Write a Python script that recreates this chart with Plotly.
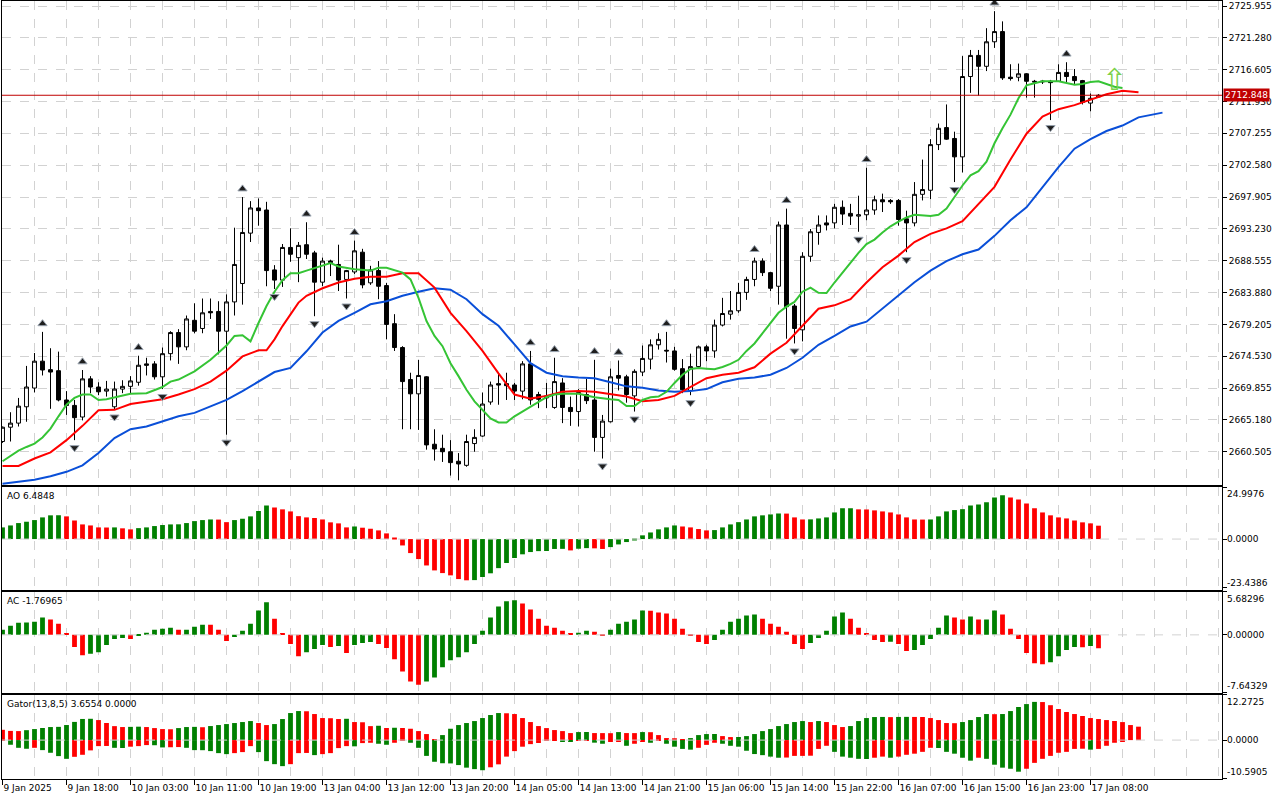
import plotly.graph_objects as go

# ---------------- data (XAUUSD H1, bar index 0..137) ----------------
time_labels = ["9 Jan 2025", "9 Jan 18:00", "10 Jan 03:00", "10 Jan 11:00", "10 Jan 19:00",
               "13 Jan 04:00", "13 Jan 12:00", "13 Jan 20:00", "14 Jan 05:00", "14 Jan 13:00",
               "14 Jan 21:00", "15 Jan 06:00", "15 Jan 14:00", "15 Jan 22:00", "16 Jan 07:00",
               "16 Jan 15:00", "16 Jan 23:00", "17 Jan 08:00"]
label_bars = [0, 8, 16, 24, 32, 40, 48, 56, 64, 72, 80, 88, 96, 104, 112, 120, 128, 136]

opens = [2662.0, 2664.1, 2664.7, 2667.1, 2669.85, 2673.8, 2672.55, 2672.4, 2668.1, 2667.3,
         2665.6, 2671.2, 2670.0, 2669.4, 2667.1, 2669.7, 2670.1, 2670.7, 2673.4, 2673.4,
         2671.5, 2674.9, 2678.0, 2675.9, 2679.8, 2678.6, 2681.1, 2681.1, 2678.2, 2682.5,
         2685.2, 2692.6, 2696.3, 2696.0, 2687.2, 2685.7, 2690.5, 2689.0, 2690.9, 2689.7,
         2685.4, 2688.5, 2688.0, 2685.8, 2686.9, 2689.8, 2685.3, 2687.1, 2684.9, 2679.3,
         2675.8, 2671.1, 2669.0, 2671.5, 2661.6, 2661.0, 2660.5, 2659.1, 2658.5, 2661.7,
         2662.8, 2667.8, 2670.5, 2670.5, 2670.3, 2669.4, 2673.4, 2668.9, 2668.4, 2667.0,
         2670.6, 2667.0, 2666.4, 2668.9, 2668.1, 2662.6, 2664.9, 2671.7, 2671.5, 2668.7,
         2672.2, 2674.1, 2676.2, 2675.4, 2675.3, 2672.7, 2669.5, 2673.0, 2675.9, 2675.3,
         2679.1, 2680.7, 2681.2, 2683.9, 2685.8, 2688.5, 2686.8, 2684.8, 2693.8, 2681.9,
         2678.4, 2689.2, 2692.7, 2694.1, 2694.1, 2696.4, 2695.5, 2695.1, 2695.3, 2696.0,
         2697.5, 2697.4, 2697.4, 2694.7, 2694.1, 2698.3, 2698.9, 2705.6, 2708.1, 2706.5,
         2703.8, 2715.6, 2718.7, 2717.1, 2720.7, 2722.2, 2715.5, 2715.5, 2716.0, 2714.9,
         2714.8, 2714.9, 2714.9, 2716.2, 2715.6, 2715.0, 2711.7, 2712.6]
highs = [2664.2, 2666.3, 2668.4, 2673.1, 2675.0, 2678.1, 2675.7, 2675.2, 2669.4, 2668.1,
         2672.5, 2671.6, 2670.7, 2670.9, 2670.8, 2671.0, 2671.6, 2674.6, 2674.3, 2673.8,
         2675.8, 2678.2, 2678.5, 2680.5, 2682.3, 2683.0, 2683.0, 2682.6, 2683.6, 2693.4,
         2697.9, 2697.3, 2697.7, 2697.2, 2687.9, 2691.0, 2693.3, 2691.3, 2694.2, 2690.0,
         2689.0, 2688.7, 2690.9, 2687.2, 2691.5, 2690.3, 2687.8, 2688.5, 2685.3, 2680.7,
         2676.0, 2672.1, 2674.0, 2671.6, 2663.8, 2663.0, 2662.2, 2660.3, 2663.0, 2663.8,
         2669.2, 2670.8, 2672.1, 2672.1, 2670.6, 2673.8, 2675.3, 2669.3, 2670.6, 2674.3,
         2671.3, 2668.6, 2669.7, 2671.2, 2674.0, 2665.9, 2672.7, 2673.9, 2671.8, 2672.6,
         2676.1, 2677.0, 2677.9, 2678.1, 2675.9, 2674.1, 2674.9, 2676.1, 2676.2, 2679.9,
         2683.1, 2684.1, 2685.3, 2686.2, 2689.0, 2688.9, 2686.9, 2694.3, 2696.2, 2682.2,
         2689.8, 2693.2, 2695.2, 2695.2, 2696.9, 2697.4, 2696.9, 2698.1, 2702.2, 2698.1,
         2698.4, 2697.6, 2697.6, 2695.9, 2700.1, 2703.4, 2706.4, 2708.7, 2711.5, 2707.5,
         2718.6, 2719.5, 2719.5, 2722.7, 2725.2, 2723.7, 2717.4, 2717.5, 2716.1, 2715.1,
         2715.1, 2715.1, 2717.4, 2717.7, 2716.7, 2715.1, 2713.1, 2713.0]
lows = [2661.8, 2662.0, 2664.2, 2664.9, 2669.2, 2671.7, 2666.8, 2667.9, 2665.9, 2662.2,
        2665.1, 2669.1, 2668.8, 2668.6, 2666.7, 2669.1, 2669.1, 2670.2, 2671.7, 2671.1,
        2669.7, 2673.9, 2673.4, 2675.4, 2677.9, 2677.9, 2680.0, 2674.8, 2663.0, 2680.5,
        2682.1, 2691.3, 2693.7, 2684.8, 2684.4, 2684.7, 2688.4, 2685.4, 2688.8, 2680.4,
        2684.8, 2686.3, 2684.1, 2683.0, 2686.6, 2684.5, 2685.0, 2682.9, 2677.0, 2675.3,
        2663.8, 2663.8, 2663.7, 2660.8, 2659.2, 2659.0, 2657.0, 2656.3, 2658.3, 2660.5,
        2662.7, 2667.4, 2667.4, 2668.1, 2668.1, 2668.2, 2667.4, 2666.9, 2666.9, 2666.8,
        2664.7, 2664.3, 2664.2, 2667.5, 2660.5, 2659.5, 2664.8, 2669.5, 2667.7, 2666.4,
        2671.6, 2672.6, 2675.5, 2673.6, 2672.4, 2669.1, 2668.8, 2672.8, 2673.8, 2674.3,
        2678.9, 2679.9, 2680.9, 2682.8, 2684.8, 2686.3, 2684.1, 2682.1, 2677.1, 2676.4,
        2676.7, 2688.4, 2690.9, 2693.0, 2693.3, 2693.8, 2693.8, 2692.8, 2694.5, 2695.3,
        2695.7, 2696.9, 2693.7, 2689.8, 2693.6, 2697.4, 2697.6, 2704.8, 2706.3, 2700.1,
        2701.5, 2713.2, 2712.8, 2716.4, 2719.8, 2715.1, 2715.0, 2714.9, 2712.5, 2712.5,
        2714.5, 2709.2, 2714.9, 2714.8, 2714.4, 2711.5, 2710.5, 2712.5]
closes = [2664.1, 2664.7, 2667.2, 2670.0, 2673.8, 2672.5, 2672.2, 2668.1, 2667.3, 2665.5,
          2671.2, 2670.0, 2669.3, 2669.7, 2669.7, 2670.1, 2670.9, 2673.2, 2673.2, 2671.5,
          2674.9, 2678.0, 2675.9, 2680.0, 2678.2, 2680.9, 2680.9, 2678.2, 2682.5, 2688.0,
          2692.7, 2696.3, 2695.9, 2687.1, 2685.7, 2690.5, 2689.5, 2690.8, 2689.5, 2685.4,
          2688.5, 2688.3, 2685.7, 2687.1, 2690.0, 2685.0, 2687.2, 2684.8, 2679.2, 2675.8,
          2670.8, 2669.0, 2671.7, 2661.5, 2660.9, 2660.5, 2658.9, 2658.7, 2662.0, 2662.6,
          2667.5, 2670.3, 2670.3, 2670.2, 2669.4, 2673.4, 2668.1, 2668.2, 2668.7, 2670.8,
          2667.0, 2666.4, 2669.2, 2668.0, 2662.6, 2665.0, 2671.5, 2671.3, 2668.9, 2672.3,
          2674.2, 2676.2, 2677.0, 2675.3, 2672.6, 2669.6, 2673.0, 2675.9, 2675.3, 2679.1,
          2680.8, 2681.2, 2683.9, 2685.8, 2688.5, 2686.8, 2684.5, 2693.8, 2681.8, 2678.6,
          2689.2, 2692.8, 2693.8, 2693.8, 2696.4, 2695.4, 2695.1, 2695.3, 2696.0, 2697.5,
          2697.2, 2697.2, 2694.6, 2694.1, 2698.3, 2699.0, 2705.6, 2708.0, 2706.4, 2703.8,
          2715.6, 2718.7, 2717.1, 2720.7, 2722.2, 2715.4, 2715.3, 2716.0, 2714.9, 2714.8,
          2714.9, 2714.7, 2716.2, 2715.6, 2715.0, 2711.8, 2712.4, 2712.848]

# Alligator lines (bar index, price); they run past the last bar because of their shift
jaw_points = [(0, 2655.8), (2, 2656.1), (4, 2656.4), (6, 2656.9), (8, 2657.55), (10, 2658.5),
              (12, 2660.3), (14, 2662.5), (16, 2663.8), (18, 2664.2), (20, 2664.9), (22, 2665.7),
              (24, 2666.2), (26, 2667.2), (28, 2668.1), (30, 2669.4), (32, 2670.8), (34, 2672.2),
              (36, 2672.8), (38, 2675.25), (40, 2678.0), (42, 2679.7), (44, 2680.9), (46, 2682.15),
              (48, 2682.6), (50, 2683.4), (52, 2684.0), (54, 2684.5), (56, 2684.3), (58, 2682.9),
              (60, 2680.7), (62, 2679.0), (64, 2676.25), (66, 2673.5), (68, 2672.1), (70, 2671.6),
              (72, 2671.4), (74, 2671.3), (76, 2670.7), (78, 2670.1), (80, 2669.9), (82, 2669.5),
              (84, 2669.3), (86, 2669.4), (88, 2669.7), (90, 2670.7), (92, 2671.2), (94, 2671.4),
              (96, 2671.8), (98, 2672.8), (100, 2674.3), (102, 2676.2), (104, 2677.5), (106, 2678.9),
              (108, 2679.6), (110, 2681.5), (112, 2683.4), (114, 2685.4), (116, 2687.1), (118, 2688.5),
              (120, 2689.5), (122, 2690.2), (124, 2692.2), (126, 2694.5), (128, 2696.4), (130, 2699.4),
              (132, 2702.3), (134, 2705.0), (136, 2706.4), (138, 2707.6), (140, 2708.4), (142, 2709.6),
              (144, 2710.1), (145, 2710.3)]
teeth_points = [(0, 2658.4), (2, 2658.4), (4, 2659.5), (6, 2660.4), (8, 2662.2), (10, 2664.3),
                (12, 2666.6), (14, 2666.65), (16, 2667.5), (18, 2667.9), (20, 2668.2), (22, 2668.9),
                (24, 2669.7), (26, 2670.8), (28, 2672.4), (30, 2674.5), (32, 2675.4), (33, 2675.4),
                (34, 2677.0), (35, 2678.95), (36, 2680.7), (37, 2682.4), (38, 2683.4), (40, 2684.5),
                (42, 2685.35), (44, 2685.9), (46, 2686.2), (48, 2686.2), (50, 2686.7), (52, 2686.7),
                (54, 2684.6), (56, 2680.9), (58, 2678.2), (60, 2675.3), (62, 2672.0), (64, 2668.9),
                (66, 2668.3), (68, 2668.7), (70, 2669.3), (72, 2669.4), (74, 2669.3), (76, 2668.9),
                (78, 2668.6), (80, 2667.9), (82, 2668.1), (84, 2668.7), (86, 2670.0), (88, 2671.3),
                (90, 2671.8), (92, 2672.1), (94, 2672.9), (96, 2674.9), (98, 2676.5), (100, 2678.95),
                (102, 2681.5), (104, 2682.0), (106, 2682.9), (108, 2685.35), (110, 2687.6), (112, 2689.3),
                (114, 2691.3), (116, 2692.5), (118, 2693.3), (120, 2694.35), (122, 2696.8), (124, 2699.4),
                (126, 2703.4), (128, 2707.2), (130, 2709.7), (132, 2710.8), (134, 2711.4), (136, 2712.2),
                (138, 2713.0), (140, 2713.5), (142, 2713.3)]
lips_points = [(0, 2659.1), (1, 2659.9), (2, 2660.65), (3, 2661.2), (4, 2661.7), (5, 2662.6),
               (6, 2663.9), (7, 2665.7), (8, 2667.4), (9, 2668.4), (10, 2668.9), (11, 2668.9),
               (12, 2668.1), (13, 2668.2), (14, 2668.5), (16, 2669.0), (18, 2669.1), (20, 2670.0),
               (21, 2670.8), (22, 2671.1), (24, 2672.3), (26, 2674.0), (28, 2676.1), (29, 2677.5),
               (30, 2677.6), (31, 2676.7), (32, 2679.4), (33, 2681.9), (34, 2684.0), (35, 2685.7),
               (36, 2686.7), (37, 2686.7), (38, 2687.1), (39, 2687.5), (40, 2687.8), (41, 2688.2),
               (42, 2687.7), (44, 2687.3), (46, 2687.1), (47, 2687.5), (48, 2687.5), (49, 2687.2),
               (50, 2686.8), (51, 2685.8), (52, 2683.1), (53, 2679.7), (54, 2677.5), (55, 2676.0),
               (56, 2673.5), (57, 2671.6), (58, 2669.6), (59, 2667.9), (60, 2666.65), (61, 2665.4),
               (62, 2664.8), (63, 2664.8), (64, 2665.7), (65, 2666.4), (66, 2667.2), (67, 2667.9),
               (68, 2668.5), (69, 2668.9), (70, 2669.0), (72, 2669.0), (74, 2668.5), (76, 2668.2),
               (77, 2668.1), (78, 2667.2), (79, 2667.2), (80, 2668.1), (81, 2668.5), (82, 2668.6),
               (83, 2669.3), (84, 2670.6), (85, 2671.8), (86, 2672.65), (87, 2672.8), (88, 2672.7),
               (89, 2672.6), (90, 2672.95), (91, 2673.4), (92, 2674.0), (93, 2675.3), (94, 2676.4),
               (95, 2677.9), (96, 2679.35), (97, 2680.9), (98, 2681.8), (99, 2682.5), (100, 2684.0),
               (101, 2684.6), (102, 2683.85), (103, 2683.8), (104, 2685.35), (105, 2686.8), (106, 2688.4),
               (107, 2689.7), (108, 2691.0), (109, 2691.65), (110, 2692.7), (111, 2693.6), (112, 2694.3),
               (113, 2694.9), (114, 2695.3), (115, 2695.2), (116, 2695.1), (117, 2695.3), (118, 2696.2),
               (119, 2697.9), (120, 2699.6), (121, 2701.1), (122, 2701.7), (123, 2703.1), (124, 2705.8),
               (125, 2708.0), (126, 2710.0), (127, 2712.4), (128, 2714.3), (129, 2714.6), (130, 2714.9),
               (132, 2714.9), (134, 2714.4), (135, 2714.5), (136, 2714.8), (137, 2714.9), (138, 2714.5),
               (139, 2714.1), (140, 2713.9)]

fractal_up = [5, 10, 17, 30, 38, 44, 66, 69, 74, 77, 83, 94, 98, 108, 124, 133]
fractal_down = [9, 14, 20, 28, 34, 39, 43, 57, 75, 79, 86, 99, 107, 113, 119, 131]

bid_price = 2712.848
signal_bar, signal_price = 139, 2715.2

price_ticks = [2660.505, 2665.180, 2669.855, 2674.530, 2679.205, 2683.880, 2688.555, 2693.230,
               2697.905, 2702.580, 2707.255, 2711.930, 2716.605, 2721.280, 2725.955]

ao_vals = [5.65, 6.6, 7.75, 8.4, 9.2, 10.5, 11.5, 11.55, 11.0, 9.0,
           7.1, 6.6, 5.65, 5.6, 5.65, 5.2, 4.7, 5.3, 5.65, 6.3,
           6.8, 7.1, 7.15, 7.75, 8.7, 9.2, 9.5, 9.45, 8.2, 9.2,
           9.85, 11.0, 13.6, 16.3, 15.3, 14.4, 13.4, 11.1, 10.5, 10.2,
           9.5, 8.1, 7.6, 5.65, 6.1, 5.5, 5.0, 4.2, 2.75, 0.5,
           -3.1, -6.8, -9.7, -12.8, -15.2, -16.5, -17.6, -19.4, -20.0, -19.9,
           -18.4, -16.6, -14.1, -11.6, -9.2, -7.4, -6.3, -5.85, -5.8, -4.8,
           -4.75, -5.5, -4.7, -4.4, -4.5, -4.8, -3.9, -2.6, -1.45, -0.3,
           1.8, 3.2, 4.7, 5.65, 6.6, 6.1, 5.65, 4.85, 4.2, 4.35,
           5.65, 7.1, 8.2, 9.5, 11.0, 11.5, 11.95, 12.4, 12.35, 10.5,
           9.5, 9.55, 10.0, 10.5, 12.9, 14.9, 14.95, 14.4, 14.35, 13.9,
           13.4, 12.9, 11.95, 10.5, 9.5, 9.45, 9.5, 11.0, 13.4, 14.05,
           14.5, 16.3, 16.8, 17.8, 20.2, 21.2, 20.2, 19.2, 17.3, 14.9,
           12.9, 11.5, 10.5, 10.0, 9.0, 8.1, 7.6, 6.4848]
ao_colors = ("GGGGGGGG" "RRRRRR" "G" "RR" "GGGGGGGGGG" "RR" "GGGGG" "RRRRRRRRRR" "G"
             "RRRRRRRRRRRRRR" "GGGGGGGGGGGG" "R" "GG" "RR" "GGGGGGGGG" "RRRR" "GGGGGGGGG"
             "RRR" "GGGGGG" "RRRRRRRRR" "GGGGGGGGGG" "RRRRRRRRRRRR")

ac_vals = [0.67, 1.21, 1.62, 1.63, 1.75, 2.29, 2.02, 1.48, 0.13, -1.62,
           -2.69, -2.51, -2.29, -1.35, -0.54, -0.40, -0.54, -0.09, 0.27, 0.67,
           0.81, 0.94, 0.67, 0.68, 1.08, 1.35, 1.34, 0.67, -0.81, -0.27,
           0.54, 1.48, 3.23, 4.31, 2.15, 0.13, -1.21, -2.83, -2.29, -1.88,
           -1.35, -1.62, -1.48, -2.42, -1.35, -1.08, -0.94, -1.21, -1.75, -3.23,
           -4.85, -6.19, -6.60, -6.19, -5.65, -4.31, -3.37, -2.96, -2.29, -1.21,
           0.54, 2.29, 3.77, 4.44, 4.58, 4.17, 3.37, 2.15, 1.21, 0.94,
           0.54, 0.13, 0.27, 0.54, 0.40, -0.09, 0.67, 1.48, 1.75, 2.02,
           3.23, 3.2, 2.96, 2.83, 2.15, 0.81, -0.09, -0.94, -1.21, -0.67,
           0.67, 1.75, 2.15, 2.56, 2.69, 2.15, 1.48, 1.08, 0.40, -1.21,
           -1.88, -1.08, -0.40, 0.54, 2.42, 2.96, 2.15, 0.94, 0.13, -0.67,
           -0.94, -0.9, -1.21, -2.15, -2.02, -1.35, -0.54, 0.94, 2.56, 2.29,
           2.02, 2.42, 2.02, 2.05, 3.23, 2.69, 0.81, -0.54, -2.42, -3.77,
           -3.90, -3.63, -2.83, -2.02, -1.62, -1.63, -1.48, -1.76965]
ac_colors = ("GGGGGG" "RRRRR" "GGGGG" "R" "GGGGG" "R" "GGG" "RRR" "GGGGG" "RRRR" "GGG" "R" "G"
             "R" "GGG" "RRRRRR" "GGGGGGGGGGGG" "RRRRRRR" "GG" "RR" "GGGGG" "RRRRRRRR" "GGGGGG"
             "RRRRRR" "GGGGG" "RRRRR" "G" "RR" "GGGGG" "RR" "G" "R" "GG" "RRRRRR" "GGGG" "R" "G" "R")

gator_up = [2.8, 2.5, 2.45, 2.7, 3.0, 3.3, 3.55, 3.6, 4.1, 4.95,
            5.75, 5.8, 5.45, 4.65, 3.8, 3.55, 3.6, 3.65, 3.55, 3.27,
            3.0, 2.95, 3.27, 3.55, 3.6, 3.5, 3.82, 4.09, 4.36, 4.64,
            4.91, 5.18, 4.64, 4.09, 4.36, 5.73, 7.36, 7.9, 7.85, 7.09,
            6.0, 5.95, 5.73, 5.8, 4.91, 4.85, 3.8, 3.9, 3.3, 3.36,
            3.3, 3.09, 2.45, 1.64, 0.27, 1.36, 3.09, 4.09, 4.64, 5.18,
            6.0, 6.82, 7.36, 7.3, 7.09, 6.0, 4.91, 3.82, 3.27, 2.73,
            2.45, 1.91, 2.18, 2.2, 1.91, 1.9, 1.88, 2.18, 1.91, 1.9,
            2.18, 2.15, 1.36, 0.55, 0.5, 0.09, 0.55, 1.36, 1.64, 1.66,
            1.09, 0.82, 0.85, 1.09, 1.64, 2.45, 3.0, 3.82, 4.36, 4.91,
            5.18, 4.91, 5.18, 4.91, 4.09, 3.55, 3.82, 5.18, 6.0, 6.27,
            6.3, 6.25, 6.3, 6.32, 6.3, 6.28, 6.0, 5.45, 4.64, 4.6,
            4.91, 5.45, 6.27, 7.09, 7.05, 7.09, 7.9, 9.0, 9.8, 10.4,
            10.35, 9.5, 8.45, 7.64, 7.09, 6.55, 6.0, 5.73, 5.45, 5.2,
            4.9, 4.09, 3.6554]
gator_up_colors = ("RRR" "GGGGGGGGG" "RRRR" "GG" "RRRR" "GGG" "R" "GGGGGG" "RR" "GGGG" "RRRRR"
                   "G" "RRR" "G" "R" "G" "RRRRR" "GGGGGGGG" "RRRRRRRRR" "GG" "RRR" "G" "RR" "G"
                   "RRRRR" "GGGG" "RR" "GGGGGGGGG" "R" "G" "RRR" "GGGGG" "R" "GG" "RRRRRR" "GGGG"
                   "R" "GGGGG" "RRRRRRRRRRRRR")
gator_down = [-0.2, -1.27, -2.1, -2.36, -2.1, -2.73, -3.45, -4.36, -5.1, -4.55,
              -4.0, -2.8, -1.64, -1.6, -2.1, -2.15, -1.8, -1.64, -1.36, -1.4,
              -2.0, -1.95, -1.9, -2.1, -2.73, -2.75, -3.0, -3.55, -3.82, -3.55,
              -3.27, -1.64, -3.27, -5.73, -6.55, -7.09, -6.55, -3.55, -3.5, -4.09,
              -3.82, -3.55, -2.18, -1.64, -1.7, -0.82, -0.73, -1.0, -1.27, -0.73,
              -0.2, -0.73, -2.1, -4.3, -5.9, -6.3, -6.35, -6.8, -7.5, -7.9,
              -8.2, -7.4, -6.6, -4.5, -3.0, -1.8, -1.1, -0.8, -0.2, -0.1,
              -0.25, -0.45, -0.2, -0.1, -0.7, -1.0, -0.45, -0.45, -1.55, -1.0,
              -0.45, -0.73, -0.1, -1.0, -1.8, -2.4, -2.6, -2.1, -1.3, -0.73,
              -1.0, -1.55, -1.8, -2.9, -3.8, -4.1, -4.5, -4.8, -4.75, -4.3,
              -4.3, -4.25, -2.4, -1.55, -3.2, -4.5, -4.8, -5.1, -5.15, -4.8,
              -4.5, -4.8, -4.5, -4.0, -3.7, -3.2, -2.1, -2.15, -3.2, -3.7,
              -4.8, -5.6, -4.8, -5.1, -6.7, -7.5, -7.8, -8.6, -7.8, -6.2,
              -5.1, -4.3, -3.45, -3.2, -2.4, -2.35, -2.6, -2.4, -1.55, -0.73,
              -0.45, 0.0, 0.0]
gator_down_colors = ("R" "GGG" "R" "GGGG" "RRRRR" "GG" "RRR" "GG" "RR" "GGGGGG" "RRR" "GGGG" "RRR"
                     "G" "RRRR" "G" "RR" "GG" "RR" "GGGGGGGGGG" "RRRRRRRRR" "GG" "RR" "GG" "RR" "G"
                     "RR" "G" "R" "GGGG" "RRR" "GGGGGGGG" "RRRRRR" "GGGGG" "RR" "G" "RRRRR" "GGGGG"
                     "R" "GGGGG" "RRRRRRRR" "G" "RRRRRR")

# ---------------- styling ----------------
GREEN_BAR, RED_BAR = "#008000", "#ff0000"
FONT = "DejaVu Sans"
FS = 9
GRID = "#d2d2d2"

def col(codes):
    return [GREEN_BAR if c == "G" else RED_BAR for c in codes]

bars = list(range(len(opens)))
X_RANGE = [-0.0625, 152.4375]

fig = go.Figure()

fig.add_trace(go.Candlestick(
    x=bars, open=opens, high=highs, low=lows, close=closes,
    increasing=dict(fillcolor="white", line=dict(color="black", width=1)),
    decreasing=dict(fillcolor="black", line=dict(color="black", width=1)),
    whiskerwidth=0, xaxis="x", yaxis="y", hoverinfo="skip"))

for pts, color in ((jaw_points, "#0a4fd8"), (teeth_points, "#ff0000"), (lips_points, "#35c435")):
    fig.add_trace(go.Scatter(x=[p[0] for p in pts], y=[p[1] for p in pts], mode="lines",
                             line=dict(color=color, width=2), xaxis="x", yaxis="y", hoverinfo="skip"))

fig.add_trace(go.Scatter(x=fractal_up, y=[highs[i] + 1.2 for i in fractal_up], mode="markers",
                         marker=dict(symbol="triangle-up", size=8, color="#1e1e1e",
                                     line=dict(color="#9aa4b0", width=1)),
                         xaxis="x", yaxis="y", hoverinfo="skip"))
fig.add_trace(go.Scatter(x=fractal_down, y=[lows[i] - 1.1 for i in fractal_down], mode="markers",
                         marker=dict(symbol="triangle-down", size=8, color="#1e1e1e",
                                     line=dict(color="#9aa4b0", width=1)),
                         xaxis="x", yaxis="y", hoverinfo="skip"))

fig.add_trace(go.Bar(x=bars, y=ao_vals, marker=dict(color=col(ao_colors), line=dict(width=0)),
                     width=0.6, xaxis="x2", yaxis="y2", hoverinfo="skip"))
fig.add_trace(go.Bar(x=bars, y=ac_vals, marker=dict(color=col(ac_colors), line=dict(width=0)),
                     width=0.6, xaxis="x3", yaxis="y3", hoverinfo="skip"))
gbars = list(range(len(gator_up)))
fig.add_trace(go.Bar(x=gbars, y=gator_up, marker=dict(color=col(gator_up_colors), line=dict(width=0)),
                     width=0.6, xaxis="x4", yaxis="y4", hoverinfo="skip"))
fig.add_trace(go.Bar(x=gbars, y=gator_down, marker=dict(color=col(gator_down_colors), line=dict(width=0)),
                     width=0.6, xaxis="x4", yaxis="y4", hoverinfo="skip"))

tickfont = dict(family=FONT, size=FS, color="black")

def xax(anchor, show_labels):
    d = dict(anchor=anchor, domain=[0, 1], range=X_RANGE, showline=True, mirror=True,
             linecolor="black", linewidth=1, zeroline=False, automargin=False,
             tickmode="array", tickvals=label_bars, ticktext=time_labels, tickangle=0,
             showticklabels=show_labels, ticks="outside" if show_labels else "",
             ticklen=5, tickcolor="black", tickfont=tickfont,
             showgrid=True, gridcolor=GRID, griddash="dash", gridwidth=1,
             minor=dict(tickmode="linear", tick0=0, dtick=4, showgrid=True,
                        gridcolor=GRID, griddash="dash", gridwidth=1, ticks=""),
             rangeslider=dict(visible=False))
    if show_labels:
        d["ticklabelposition"] = "outside right"
    if anchor != "y":
        d["matches"] = "x"
    return d

def yax_sub(domain, rng, ticks):
    return dict(anchor="x", domain=domain, range=rng, side="right", showline=True, mirror=True,
                linecolor="black", linewidth=1, zeroline=False, showgrid=False, automargin=False,
                tickmode="array", tickvals=ticks, showticklabels=False,
                ticks="outside", ticklen=4, tickcolor="black")

ao_rng, ac_rng, gt_rng = [-24.7, 24.9976], [-7.64329, 5.68296], [-10.5905, 12.2725]

fig.update_layout(
    width=1280, height=800,
    margin=dict(l=2, r=58, t=1, b=21),
    paper_bgcolor="white", plot_bgcolor="white",
    showlegend=False, barmode="overlay",
    font=dict(family=FONT, size=FS, color="black"),
    xaxis=xax("y", False),
    xaxis2=xax("y2", False),
    xaxis3=xax("y3", False),
    xaxis4=xax("y4", True),
    yaxis=dict(anchor="x", domain=[0.37725, 1.0], range=[2655.54, 2726.69], side="right",
               showline=True, mirror=True, linecolor="black", linewidth=1, zeroline=False,
               automargin=False,
               tickmode="array", tickvals=price_ticks, ticktext=[f"{v:.3f}" for v in price_ticks],
               ticks="outside", ticklen=4, tickcolor="black", tickfont=tickfont,
               showgrid=True, gridcolor=GRID, griddash="dash", gridwidth=1),
    yaxis2=yax_sub([0.24293, 0.37468], ao_rng, [ao_rng[1], 0, -23.4386]),
    yaxis3=yax_sub([0.11118, 0.24036], ac_rng, [ac_rng[1], 0, ac_rng[0]]),
    yaxis4=yax_sub([0.0, 0.10797], gt_rng, [gt_rng[1], 0, gt_rng[0]]),
)

# zero lines of the sub windows
for ax in ("2", "3", "4"):
    fig.add_shape(type="line", xref=f"x{ax} domain", x0=0, x1=1, yref=f"y{ax}", y0=0, y1=0,
                  line=dict(color=GRID, width=1, dash="dash"), layer="above")

# bid line
fig.add_shape(type="line", xref="x domain", x0=0, x1=1, yref="y", y0=bid_price, y1=bid_price,
              line=dict(color="#c00000", width=1), layer="above")

ann = []
ann.append(dict(xref="paper", x=1, xanchor="left", xshift=1, yref="y", y=bid_price, yanchor="middle",
                text=f"{bid_price:.3f}", showarrow=False, bgcolor="#c00000", borderpad=1,
                font=dict(family=FONT, size=FS, color="white")))

panel_titles = [("y2", "AO 6.4848"), ("y3", "AC -1.76965"), ("y4", "Gator(13,8,5) 3.6554 0.0000")]
for yref, text in panel_titles:
    ann.append(dict(xref="paper", x=0, xanchor="left", xshift=3, yref=f"{yref} domain", y=1,
                    yanchor="top", yshift=-2, text=text, showarrow=False,
                    font=dict(family=FONT, size=FS, color="black")))

scale_labels = [("y2", "24.9976", "0.0000", "-23.4386"),
                ("y3", "5.68296", "0.00000", "-7.64329"),
                ("y4", "12.2725", "0.0000", "-10.5905")]
for yref, top, mid, bot in scale_labels:
    common = dict(xref="paper", x=1, xanchor="left", xshift=3, showarrow=False,
                  font=dict(family=FONT, size=FS, color="black"))
    ann.append(dict(yref=f"{yref} domain", y=1, yanchor="top", text=top, **common))
    ann.append(dict(yref=yref, y=0, yanchor="middle", text=mid, **common))
    ann.append(dict(yref=f"{yref} domain", y=0, yanchor="bottom", text=bot, **common))

ann.append(dict(xref="x", x=signal_bar, yref="y", y=signal_price, text="\u21e7", showarrow=False,
                font=dict(family="DejaVu Sans", size=30, color="#7cd04a")))

fig.update_layout(annotations=ann)

fig.write_html("out.html", config={"displayModeBar": False},
               post_script="document.body.style.margin='0px';")
